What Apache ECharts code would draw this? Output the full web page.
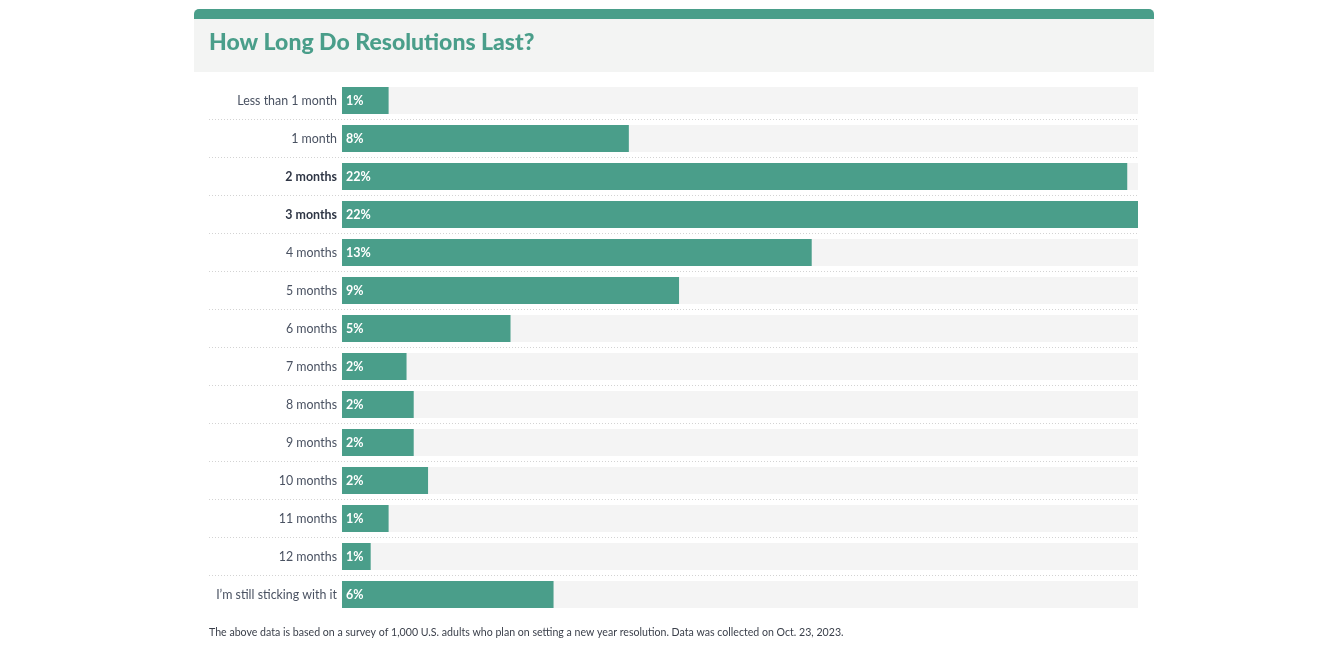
<!DOCTYPE html>
<html>
<head>
<meta charset="utf-8">
<script src="https://cdn.jsdelivr.net/npm/echarts@6/dist/echarts.min.js"></script>
<style>
  html, body { margin: 0; padding: 0; background: #fff; }
  #chart { width: 1342px; height: 645px; }
</style>
</head>
<body>
<div id="chart"></div>
<script>
// categories, top to bottom
var durations = [
  'Less than 1 month', '1 month', '2 months', '3 months', '4 months',
  '5 months', '6 months', '7 months', '8 months', '9 months',
  '10 months', '11 months', '12 months', 'I\u2019m still sticking with it'
];
// share of respondents (%)
var shares = [1.3, 8.0, 21.9, 22.2, 13.1, 9.4, 4.7, 1.8, 2.0, 2.0, 2.4, 1.3, 0.8, 5.9];
// labels shown in bold
var boldCats = ['2 months', '3 months'];

var titleText = 'How Long Do Resolutions Last?';
var noteText = 'The above data is based on a survey of 1,000 U.S. adults who plan on setting a new year resolution. Data was collected on Oct. 23, 2023.';

var green = '#4a9e8a';
var fontFam = 'Lato, "Noto Sans", sans-serif';

var chart = echarts.init(document.getElementById('chart'));
var option = {
  animation: false,
  graphic: [
    // header panel
    { type: 'rect', shape: { x: 194, y: 10, width: 960, height: 62 }, style: { fill: '#f3f4f3' }, z: 0 },
    { type: 'rect', shape: { x: 194, y: 9, width: 960, height: 10, r: [5, 5, 0, 0] }, style: { fill: green }, z: 1 },
    {
      type: 'text', x: 209, y: 43, z: 2,
      style: {
        text: titleText, fill: green, font: '900 23px ' + fontFam,
        verticalAlign: 'middle', align: 'left'
      }
    },
    {
      type: 'text', x: 209, y: 633, z: 2,
      style: {
        text: noteText, fill: '#3a3f4a', font: '10.6px ' + fontFam,
        verticalAlign: 'middle', align: 'left'
      }
    }
  ],
  grid: [
    { left: 342, right: 204, top: 81.5, height: 532 },
    { left: 209, right: 204, top: 81.5, height: 532 }
  ],
  xAxis: [
    { type: 'value', gridIndex: 0, min: 0, max: 'dataMax', show: false },
    { type: 'value', gridIndex: 1, min: 0, max: 1, show: false }
  ],
  yAxis: [
    {
      type: 'category', gridIndex: 0, data: durations, inverse: true,
      axisLine: { show: false }, axisTick: { show: false }, splitLine: { show: false },
      axisLabel: {
        margin: 5, fontSize: 12.4, color: '#4a5262', fontFamily: fontFam,
        formatter: function (v) {
          return boldCats.indexOf(v) >= 0 ? '{b|' + v + '}' : v;
        },
        rich: { b: { fontWeight: 'bold', fontSize: 12.4, color: '#2f3645', fontFamily: fontFam } }
      }
    },
    {
      // row separators
      type: 'category', gridIndex: 1, data: durations, inverse: true,
      axisLine: { show: false }, axisTick: { show: false }, axisLabel: { show: false },
      splitLine: {
        show: true, showMinLine: false, showMaxLine: false,
        lineStyle: { color: '#d3d3d3', width: 1, type: [1, 2] }
      }
    }
  ],
  series: [{
    type: 'bar',
    xAxisIndex: 0, yAxisIndex: 0,
    data: shares,
    barWidth: 27,
    showBackground: true,
    backgroundStyle: { color: '#f4f4f4' },
    itemStyle: { color: green },
    label: {
      show: true, position: 'insideLeft', distance: 4,
      color: '#fff', fontSize: 12.5, fontWeight: 'bold', fontFamily: fontFam,
      formatter: function (p) { return Math.round(p.value) + '%'; }
    }
  }]
};
chart.setOption(option);
</script>
</body>
</html>
